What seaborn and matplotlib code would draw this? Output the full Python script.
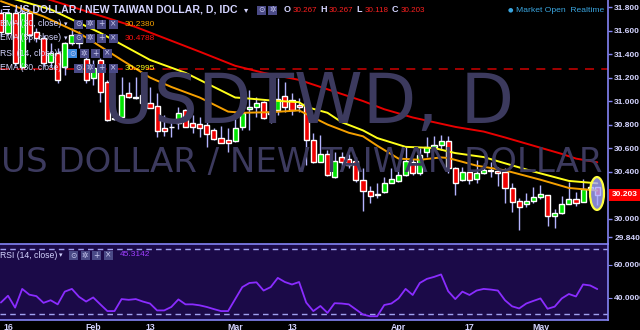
import numpy as np
import pandas as pd
import matplotlib
matplotlib.use("Agg")
import matplotlib.pyplot as plt
import seaborn as sns
from matplotlib.patches import Ellipse, Rectangle

# ---------------- data ----------------
bar_idx = list(range(-1, 84))
opens = [31.749, 31.579, 31.749, 31.289, 31.749, 31.587, 31.536, 31.332, 31.409, 31.289,
         31.494, 31.562, 31.36, 31.196, 31.349, 31.162, 30.847, 30.864, 31.068, 31.030,
         31.051, 30.983, 30.957, 30.770, 30.776, 30.813, 30.923, 30.813, 30.805, 30.796,
         30.753, 30.685, 30.668, 30.660, 30.779, 30.932, 30.949, 30.991, 30.889, 30.923,
         31.043, 31.009, 30.966, 30.983, 30.668, 30.481, 30.549, 30.353, 30.523, 30.506,
         30.489, 30.328, 30.234, 30.200, 30.226, 30.302, 30.319, 30.370, 30.481, 30.387,
         30.566, 30.609, 30.626, 30.660, 30.430, 30.328, 30.396, 30.336, 30.387, 30.413,
         30.404, 30.396, 30.260, 30.149, 30.123, 30.149, 30.183, 30.200, 30.021, 30.047,
         30.123, 30.166, 30.140, 30.251, 30.267]
highs = [31.78, 31.78, 31.78, 31.78, 31.78, 31.62, 31.56, 31.494, 31.45, 31.50,
         31.62, 31.60, 31.40, 31.349, 31.37, 31.18, 31.051, 31.204, 31.162, 31.204,
         31.153, 31.119, 31.068, 30.881, 30.838, 30.949, 30.93, 30.881, 30.864, 30.821,
         30.770, 30.787, 30.770, 30.906, 30.983, 31.094, 31.034, 31.0, 31.026, 31.196,
         31.162, 31.068, 31.026, 30.983, 30.728, 30.711, 30.583, 30.566, 30.566, 30.549,
         30.523, 30.430, 30.277, 30.302, 30.353, 30.430, 30.43, 30.609, 30.506, 30.600,
         30.694, 30.702, 30.71, 30.702, 30.438, 30.438, 30.430, 30.498, 30.472, 30.481,
         30.438, 30.430, 30.302, 30.174, 30.217, 30.268, 30.285, 30.20, 30.081, 30.191,
         30.311, 30.226, 30.336, 30.30, 30.267]
lows = [31.55, 31.56, 31.30, 31.27, 31.50, 31.50, 31.30, 31.289, 31.15, 31.221,
        31.48, 31.45, 31.15, 31.136, 30.991, 30.83, 30.838, 30.86, 31.03, 31.017,
        30.98, 30.940, 30.694, 30.702, 30.694, 30.762, 30.775, 30.728, 30.694, 30.609,
        30.67, 30.64, 30.566, 30.65, 30.753, 30.753, 30.864, 30.85, 30.813, 30.881,
        30.906, 30.881, 30.906, 30.455, 30.472, 30.481, 30.36, 30.345, 30.430, 30.430,
        30.31, 30.064, 30.132, 30.174, 30.22, 30.302, 30.31, 30.362, 30.370, 30.370,
        30.523, 30.60, 30.583, 30.387, 30.200, 30.32, 30.294, 30.302, 30.38, 30.353,
        30.277, 30.132, 30.055, 29.904, 30.10, 30.132, 30.17, 29.938, 29.921, 30.04,
        30.123, 30.106, 30.14, 30.22, 30.118]
closes = [31.587, 31.749, 31.323, 31.749, 31.562, 31.536, 31.323, 31.409, 31.179, 31.494,
          31.562, 31.494, 31.18, 31.281, 31.077, 30.838, 30.855, 31.051, 31.034, 31.038,
          30.983, 30.940, 30.745, 30.745, 30.782, 30.898, 30.779, 30.779, 30.770, 30.719,
          30.677, 30.643, 30.643, 30.770, 30.898, 30.949, 30.983, 30.855, 30.906, 31.017,
          30.949, 30.923, 30.949, 30.668, 30.481, 30.549, 30.370, 30.489, 30.481, 30.455,
          30.328, 30.234, 30.191, 30.209, 30.302, 30.336, 30.370, 30.489, 30.387, 30.540,
          30.609, 30.626, 30.660, 30.430, 30.302, 30.396, 30.328, 30.387, 30.413, 30.404,
          30.387, 30.260, 30.140, 30.098, 30.149, 30.183, 30.209, 30.021, 30.047, 30.123,
          30.166, 30.132, 30.251, 30.267, 30.203]

ema20_idx = [-1, 5, 10, 16, 20, 23, 27, 31, 33, 37, 41, 43, 45, 48, 50, 52, 55, 58, 61, 62, 66, 70, 75, 79, 83]
ema20_val = [31.85, 31.72, 31.58, 31.35, 31.20, 31.12, 31.03, 30.91, 30.90, 30.905, 30.92, 30.86, 30.80,
             30.73, 30.70, 30.62, 30.51, 30.50, 30.52, 30.515, 30.45, 30.41, 30.33, 30.26, 30.238]
ema30_idx = [-1, 6, 13, 20, 25, 27, 30, 32, 33, 37, 41, 42, 45, 47, 50, 52, 56, 60, 63, 67, 70, 74, 79, 83]
ema30_val = [31.90, 31.78, 31.58, 31.35, 31.24, 31.18, 31.09, 31.03, 31.026, 31.005, 30.99, 30.95, 30.90,
             30.82, 30.75, 30.685, 30.61, 30.60, 30.557, 30.523, 30.47, 30.40, 30.32, 30.2995]
ema55_idx = [-1, 6, 18, 27, 32, 36, 41, 46, 50, 53, 57, 60, 63, 67, 70, 74, 78, 80, 83]
ema55_val = [31.98, 31.86, 31.63, 31.42, 31.30, 31.24, 31.18, 31.08, 31.00, 30.93, 30.86, 30.82, 30.78,
             30.74, 30.69, 30.62, 30.55, 30.51, 30.4788]

rsi_val = [37.1, 41.25, 34.0, 45.4, 41.9, 41.0, 36.9, 38.5, 36.0, 43.75, 45.4, 40.6, 37.7, 40.2, 36.0,
           31.9, 31.9, 39.2, 38.75, 39.2, 37.7, 36.5, 32.3, 32.3, 34.4, 39.0, 36.0, 36.0, 35.4, 34.4,
           33.1, 31.9, 31.9, 39.2, 46.5, 49.0, 49.4, 44.4, 46.5, 52.1, 49.6, 48.1, 49.6, 37.1, 31.9,
           35.0, 30.8, 36.7, 36.5, 36.0, 32.9, 29.8, 28.75, 28.75, 35.6, 36.5, 39.6, 45.4, 41.7, 49.0,
           51.5, 52.7, 54.2, 44.0, 39.2, 43.75, 41.7, 44.4, 45.4, 45.0, 44.4, 38.5, 34.8, 33.5, 36.5,
           38.1, 39.6, 33.3, 34.6, 39.6, 42.3, 40.8, 48.1, 47.5, 45.3]

price_ticks = [31.8, 31.6, 31.4, 31.2, 31.0, 30.8, 30.6, 30.4, 30.0, 29.84]
rsi_ticks = [60, 40]
xtick_idx = [0, 12, 20, 32, 40, 55, 65, 75]
xtick_labels = ["16", "Feb", "13", "Mar", "13", "Apr", "17", "May"]
dashed_level = 31.27
last_close = 30.203

# ---------------- style ----------------
sns.set_style("dark")
plt.rcParams["font.family"] = ["Liberation Sans", "DejaVu Sans"]
SYM = ["DejaVu Sans"]
LAV = "#8484f4"
TXT = "#d4d4ff"
WM = "#3c3a5e"

fig = plt.figure(figsize=(6.4, 3.3), dpi=100, facecolor="black")
ax = fig.add_axes([0, 86 / 330, 608 / 640, 244 / 330])
rax = fig.add_axes([0, 10 / 330, 608 / 640, 76 / 330])

def fx(px):
    return px / 640

def fy(py):
    return 1 - py / 330

# ---------------- main pane ----------------
ax.set_facecolor("black")
ax.set_xlim(-1.127, 84.51)
ax.set_ylim(29.783, 31.860)

# watermarks
fig.text(fx(309), fy(123), "USDTWD, D", color=WM, fontsize=50, family=["DejaVu Sans"],
         ha="center", va="baseline", zorder=0)
fig.text(fx(302), fy(172), "US DOLLAR / NEW TAIWAN DOLLAR", color=WM, fontsize=24.5,
         family=["DejaVu Sans"], ha="center", va="baseline", zorder=0)

df = pd.DataFrame({"i": bar_idx, "o": opens, "h": highs, "l": lows, "c": closes})
up = df["c"] >= df["o"]
ax.vlines(df["i"], df["l"], df["h"], color="#b4b4ff", lw=1.0, zorder=3)
body_h = (df["c"] - df["o"]).abs().clip(lower=0.006)
body_b = df[["o", "c"]].min(axis=1)
ax.bar(df["i"][up], body_h[up], bottom=body_b[up], width=0.72, color="#00e400", zorder=4)
ax.bar(df["i"][~up], body_h[~up], bottom=body_b[~up], width=0.72, color="#f00000", zorder=4)

ax.axhline(dashed_level, color="#b00000", lw=1.3, ls=(0, (5, 4)), zorder=2)

sns.lineplot(x=ema55_idx, y=ema55_val, ax=ax, color="#e80000", lw=1.4, sort=False, estimator=None, zorder=5)
sns.lineplot(x=ema30_idx, y=ema30_val, ax=ax, color="#ffff1a", lw=1.4, sort=False, estimator=None, zorder=5)
sns.lineplot(x=ema20_idx, y=ema20_val, ax=ax, color="#f5a000", lw=1.4, sort=False, estimator=None, zorder=5)

ax.add_patch(Ellipse((82.96, 30.213), 1.97, 0.28, facecolor="#a8a8ff", alpha=0.8,
                     edgecolor="none", zorder=6))
ax.add_patch(Ellipse((82.96, 30.213), 1.97, 0.28, facecolor="none", edgecolor="#ffff40",
                     lw=1.6, zorder=7))

ax.yaxis.tick_right()
ax.set_yticks(price_ticks)
ax.set_yticklabels([f"{v:.3f}" for v in price_ticks], fontsize=6, fontweight="bold", color=TXT)
ax.tick_params(axis="y", colors=LAV, length=3, width=1, pad=1.5, labelcolor=TXT)
ax.set_xticks([])
ax.set_xlabel("")
ax.set_ylabel("")
for s in ["top", "left", "bottom"]:
    ax.spines[s].set_visible(False)
ax.spines["right"].set_color(LAV)
ax.spines["right"].set_linewidth(1.2)
ax.grid(False)

# last price label
fig.patches.append(Rectangle((fx(609), fy(201)), 31 / 640, 12 / 330, transform=fig.transFigure,
                             facecolor="#ff0000", edgecolor="none", zorder=10))
fig.text(fx(612), fy(195), f"{last_close:.3f}", color="white", fontsize=6, fontweight="bold",
         va="center", ha="left", zorder=11)

# ---------------- RSI pane ----------------
rax.set_facecolor("#1b0a48")
rax.set_xlim(-1.127, 84.51)
rax.set_ylim(26.47, 72.74)
rax.axhline(70, color="#a0a0f0", lw=1, ls=(0, (4, 3)))
rax.axhline(30, color="#a0a0f0", lw=1, ls=(0, (4, 3)))
sns.lineplot(x=bar_idx, y=rsi_val, ax=rax, color="#8a2cff", lw=1.3, sort=False, estimator=None)
rax.yaxis.tick_right()
rax.set_yticks(rsi_ticks)
rax.set_yticklabels([f"{v:.4f}" for v in rsi_ticks], fontsize=6, fontweight="bold", color=TXT)
rax.set_xticks(xtick_idx)
rax.set_xticklabels(xtick_labels, fontsize=6.3, fontweight="bold", color=TXT)
rax.tick_params(axis="y", colors=LAV, length=3, pad=1.5, labelcolor=TXT)
rax.tick_params(axis="x", colors=LAV, length=2, pad=0.3, labelcolor=TXT)
rax.set_xlabel("")
rax.set_ylabel("")
rax.grid(False)
rax.spines["left"].set_visible(False)
for s in ["top", "right", "bottom"]:
    rax.spines[s].set_color(LAV)
    rax.spines[s].set_linewidth(1.2)

# ---------------- header / legends ----------------
def icon(x, y, sym, fc="#4a4a86", w=9, h=9):
    fig.patches.append(Rectangle((fx(x), fy(y + h / 2)), w / 640, h / 330, transform=fig.transFigure,
                                 facecolor=fc, edgecolor="none", zorder=10))
    fig.text(fx(x + w / 2), fy(y), sym, color="#c8c8f0", fontsize=5.5, family=SYM,
             ha="center", va="center", zorder=11)

fig.text(fx(1), fy(10), "☰", color=TXT, fontsize=7, family=SYM, va="center", zorder=11)
fig.text(fx(15), fy(10), "US DOLLAR / NEW TAIWAN DOLLAR, D, IDC", color=TXT, fontsize=7.6,
         fontweight="bold", va="center", zorder=11)
fig.text(fx(244), fy(10), "▾", color=TXT, fontsize=6, family=SYM, va="center", zorder=11)
icon(257, 10, "⊙")
icon(268, 10, "✲")
x = 284
for lab, val in [("O", "30.267"), ("H", "30.267"), ("L", "30.118"), ("C", "30.203")]:
    fig.text(fx(x), fy(10), lab, color=TXT, fontsize=6.5, fontweight="bold", va="center", zorder=11)
    fig.text(fx(x + 9), fy(10), val, color="#ff2020", fontsize=5.8, va="center", zorder=11)
    x += 36
fig.text(fx(508), fy(10), "●", color="#3aa6e0", fontsize=4.5, family=SYM, va="center", zorder=11)
fig.text(fx(516), fy(10), "Market Open  Realtime", color="#3aa6e0", fontsize=6.1,
         va="center", zorder=11)

rows = [("EMA (20, close)", 24, "30.2380", "#f5a000", 74),
        ("EMA (55, close)", 38, "30.4788", "#ff1010", 74),
        ("RSI (14, close)", 53, None, None, 68),
        ("EMA (30, close)", 68, "30.2995", "#ffff1a", 74)]
for name, yy, val, col, ix in rows:
    fig.text(fx(0), fy(yy), name, color=TXT, fontsize=6.2, va="center", zorder=11)
    fig.text(fx(ix - 10), fy(yy), "▾", color=TXT, fontsize=5, family=SYM, va="center", zorder=11)
    for k, sym in enumerate(["⊙", "✲", "+", "×"]):
        icon(ix + k * 11.5, yy, sym, fc="#3c8ce0" if (name.startswith("RSI") and k == 0) else "#4a4a86")
    if val:
        fig.text(fx(125), fy(yy), val, color=col, fontsize=6, va="center", zorder=11)

fig.text(fx(0), fy(255), "RSI (14, close)", color=TXT, fontsize=6.2, va="center", zorder=11)
fig.text(fx(59), fy(255), "▾", color=TXT, fontsize=5, family=SYM, va="center", zorder=11)
for k, sym in enumerate(["⊙", "✲", "+", "×"]):
    icon(69 + k * 11.5, 255, sym)
fig.text(fx(120), fy(255), "45.3142", color="#a040ff", fontsize=6, va="center", zorder=11)

fig.savefig("out.png", dpi=100, facecolor="black")
